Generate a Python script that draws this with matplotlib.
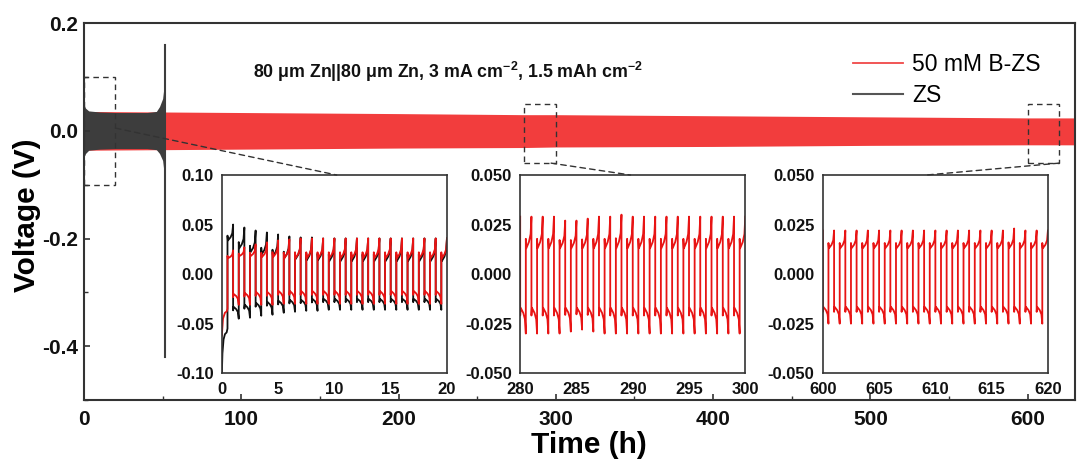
import matplotlib
matplotlib.use("Agg")
import matplotlib.pyplot as plt
from matplotlib.patches import Rectangle, ConnectionPatch
from matplotlib.lines import Line2D
from matplotlib.ticker import MultipleLocator, FormatStrFormatter

plt.rcParams['font.family'] = ['Liberation Sans', 'DejaVu Sans']
plt.rcParams['font.weight'] = 'bold'
plt.rcParams['axes.unicode_minus'] = False
plt.rcParams['mathtext.fontset'] = 'custom'
plt.rcParams['mathtext.rm'] = 'Liberation Sans'
plt.rcParams['mathtext.bf'] = 'Liberation Sans:bold'

# ---- main panel: voltage envelope of the long cycling (h, V) ----
bzs_t = [0, 50, 100, 200, 280, 300, 400, 500, 600, 630]
bzs_hi = [0.036, 0.035, 0.034, 0.032, 0.030, 0.030, 0.028, 0.026, 0.024, 0.024]
bzs_lo = [-0.036, -0.035, -0.034, -0.032, -0.031, -0.030, -0.029, -0.027, -0.026, -0.026]

zs_t = [0, 1, 3, 10, 20, 30, 40, 46, 48, 50, 51, 51.6]
zs_hi = [0.048, 0.042, 0.037, 0.035, 0.034, 0.034, 0.034, 0.036, 0.045, 0.060, 0.085, 0.105]
zs_lo = [-0.048, -0.042, -0.036, -0.034, -0.033, -0.033, -0.033, -0.035, -0.042, -0.055, -0.080, -0.160]
zs_spike_t = [51.7, 51.7]
zs_spike_v = [0.16, -0.42]

# ---- insets: per-cycle plateau / end values, 1 h cycles (plating then stripping) ----
half_frac = [0.0, 0.08, 0.55, 0.85, 1.0]
half_w = [0.3, 0.0, 0.2, 0.45, 1.0]

# 0-20 h
zs1_start_t = [0.0, 0.05, 0.15]
zs1_start_v = [-0.100, -0.080, -0.066]
zs1_neg_a = [-0.062, -0.033, -0.031, -0.029, -0.028, -0.027, -0.026, -0.026, -0.025, -0.025,
             -0.025, -0.025, -0.025, -0.025, -0.025, -0.025, -0.025, -0.025, -0.025, -0.025]
zs1_neg_b = [-0.055, -0.045, -0.044, -0.042, -0.041, -0.039, -0.038, -0.037, -0.037, -0.036,
             -0.036, -0.036, -0.036, -0.036, -0.036, -0.036, -0.036, -0.036, -0.036, -0.036]
zs1_pos_a = [0.034, 0.026, 0.022, 0.020, 0.018, 0.016, 0.015, 0.014, 0.014, 0.013,
             0.013, 0.013, 0.013, 0.013, 0.013, 0.013, 0.013, 0.013, 0.013, 0.013]
zs1_pos_b = [0.050, 0.047, 0.044, 0.042, 0.040, 0.038, 0.037, 0.037, 0.036, 0.036,
             0.036, 0.036, 0.036, 0.036, 0.036, 0.036, 0.036, 0.036, 0.036, 0.036]

bzs1_start_t = [0.0, 0.1]
bzs1_start_v = [-0.062, -0.045]
bzs1_neg_a = [-0.040, -0.020, -0.019, -0.018, -0.018, -0.017, -0.017, -0.017, -0.017, -0.017,
              -0.017, -0.017, -0.017, -0.017, -0.017, -0.017, -0.017, -0.017, -0.017, -0.017]
bzs1_neg_b = [-0.035, -0.031, -0.031, -0.031, -0.031, -0.030, -0.030, -0.030, -0.030, -0.030,
              -0.030, -0.030, -0.030, -0.030, -0.030, -0.030, -0.030, -0.030, -0.030, -0.030]
bzs1_pos_a = [0.016, 0.018, 0.018, 0.017, 0.017, 0.016, 0.016, 0.016, 0.016, 0.016,
              0.016, 0.016, 0.016, 0.016, 0.016, 0.016, 0.016, 0.016, 0.016, 0.016]
bzs1_pos_b = [0.024, 0.027, 0.030, 0.032, 0.034, 0.035, 0.036, 0.036, 0.036, 0.036,
              0.036, 0.036, 0.036, 0.036, 0.036, 0.036, 0.036, 0.036, 0.036, 0.036]

# 280-300 h
bzs2_start_t = [280.0]
bzs2_start_v = [0.029]
bzs2_neg_a = [-0.017] * 20
bzs2_neg_b = [-0.030, -0.030, -0.030, -0.030, -0.029, -0.028, -0.029, -0.030, -0.030, -0.030,
              -0.030, -0.030, -0.030, -0.030, -0.030, -0.030, -0.030, -0.030, -0.030, -0.030]
bzs2_pos_a = [0.013] * 20
bzs2_pos_b = [0.029, 0.029, 0.029, 0.027, 0.027, 0.028, 0.029, 0.029, 0.030, 0.029,
              0.029, 0.029, 0.029, 0.029, 0.029, 0.029, 0.029, 0.029, 0.029, 0.029]

# 600-620 h
bzs3_start_t = [600.0]
bzs3_start_v = [0.022]
bzs3_neg_a = [-0.0165] * 20
bzs3_neg_b = [-0.025] * 20
bzs3_pos_a = [0.013] * 20
bzs3_pos_b = [0.022, 0.022, 0.022, 0.022, 0.022, 0.022, 0.022, 0.022, 0.022, 0.022,
              0.022, 0.022, 0.022, 0.022, 0.022, 0.022, 0.023, 0.022, 0.022, 0.022]


def build(t0, st, sv, neg_a, neg_b, pos_a, pos_b):
    # start points, then each cycle: plating half, stripping half
    t, v = list(st), list(sv)
    for k in range(len(neg_a)):
        for half, a, b in ((0.0, neg_a[k], neg_b[k]), (0.5, pos_a[k], pos_b[k])):
            for f, w in zip(half_frac, half_w):
                tt = t0 + k + half + 0.5 * f
                if tt < t[-1]:
                    continue
                t.append(tt)
                v.append(a + w * (b - a))
    return t, v


RED_BAND = '#f23d3d'
GREY_BAND = '#3d3d3d'
RED = '#e81414'
EDGE = '#333333'

fig = plt.figure(figsize=(10.77, 4.63), dpi=100)
ax = fig.add_axes([0.078, 0.136, 0.920, 0.814])

ax.fill_between(bzs_t, bzs_lo, bzs_hi, color=RED_BAND, lw=0)
ax.fill_between(zs_t, zs_lo, zs_hi, color=GREY_BAND, lw=0)
ax.plot(zs_spike_t, zs_spike_v, color=GREY_BAND, lw=1.5)

ax.set_xlim(0, 630)
ax.set_ylim(-0.5, 0.2)
ax.xaxis.set_major_locator(MultipleLocator(100))
ax.xaxis.set_minor_locator(MultipleLocator(50))
ax.yaxis.set_major_locator(MultipleLocator(0.2))
ax.yaxis.set_minor_locator(MultipleLocator(0.1))
ax.yaxis.set_major_formatter(FormatStrFormatter('%.1f'))
ax.tick_params(which='both', direction='in', colors=EDGE, labelcolor='#111111', labelsize=15)
ax.tick_params(which='major', length=4, width=1.2)
ax.tick_params(which='minor', length=3, width=1.0)
ax.tick_params(axis='x', pad=7)
ax.tick_params(axis='y', pad=4)
for s in ax.spines.values():
    s.set_color(EDGE)
    s.set_linewidth(1.5)

ax.set_xlabel('Time (h)', fontsize=21.5, fontweight='bold')
ax.set_ylabel('Voltage (V)', fontsize=21.5, fontweight='bold')
ax.xaxis.set_label_coords(0.51, -0.082)
ax.yaxis.set_label_coords(-0.043, 0.49)

# dashed zoom boxes
for x0, y0, w, h in ((0, -0.1, 20, 0.2), (280, -0.06, 20, 0.11), (600, -0.06, 20, 0.11)):
    ax.add_patch(Rectangle((x0, y0), w, h, fill=False, ls=(0, (4, 3)), lw=1.0, ec=EDGE))

fig.text(448 / 1077, 1 - 72 / 463,
         r'80 μm Zn||80 μm Zn, 3 mA cm$^{\mathbf{-2}}$, 1.5 mAh cm$^{\mathbf{-2}}$',
         ha='center', va='center', fontsize=12.8, fontweight='bold', color='#111111')

handles = [Line2D([], [], color='#f04848', lw=1.3), Line2D([], [], color='#555555', lw=1.5)]
ax.legend(handles, ['50 mM B-ZS', 'ZS'], loc='upper left', bbox_to_anchor=(0.792, 0.885),
          bbox_transform=fig.transFigure, frameon=False, borderaxespad=0, borderpad=0,
          handlelength=2.18, handletextpad=0.4, labelspacing=0.35,
          prop={'family': 'Liberation Sans', 'weight': 'normal', 'size': 16.5})

# insets
insets = []
specs = [
    (0.206, (0, 20), (-0.10, 0.10), 0.05, '%.2f', 0.51),
    (0.483, (280, 300), (-0.05, 0.05), 0.025, '%.3f', 0.49),
    (0.764, (600, 620), (-0.05, 0.05), 0.025, '%.3f', 0.46),
]
for left, xl, yl, ystep, fmt, _ in specs:
    ia = fig.add_axes([left, 0.194, 0.209, 0.428])
    ia.set_xlim(*xl)
    ia.set_ylim(*yl)
    ia.xaxis.set_major_locator(MultipleLocator(5))
    ia.yaxis.set_major_locator(MultipleLocator(ystep))
    ia.yaxis.set_major_formatter(FormatStrFormatter(fmt))
    ia.tick_params(length=0, labelsize=12, labelcolor='#111111', pad=6)
    for s in ia.spines.values():
        s.set_color(EDGE)
        s.set_linewidth(1.2)
    insets.append(ia)

t, v = build(0, zs1_start_t, zs1_start_v, zs1_neg_a, zs1_neg_b, zs1_pos_a, zs1_pos_b)
insets[0].plot(t, v, color='#111111', lw=1.3)
t, v = build(0, bzs1_start_t, bzs1_start_v, bzs1_neg_a, bzs1_neg_b, bzs1_pos_a, bzs1_pos_b)
insets[0].plot(t, v, color=RED, lw=1.3)
t, v = build(280, bzs2_start_t, bzs2_start_v, bzs2_neg_a, bzs2_neg_b, bzs2_pos_a, bzs2_pos_b)
insets[1].plot(t, v, color=RED, lw=1.3)
t, v = build(600, bzs3_start_t, bzs3_start_v, bzs3_neg_a, bzs3_neg_b, bzs3_pos_a, bzs3_pos_b)
insets[2].plot(t, v, color=RED, lw=1.3)

# dashed connectors from zoom boxes to insets
starts = [(20, 0.005), (297, -0.06), (620, -0.06)]
for (xa, ya), ia, spec in zip(starts, insets, specs):
    con = ConnectionPatch(xyA=(xa, ya), coordsA=ax.transData, xyB=(spec[5], 1.0),
                          coordsB=ia.transAxes, ls=(0, (4, 3)), lw=1.0, color=EDGE)
    fig.add_artist(con)

fig.savefig('out.png', dpi=100)
